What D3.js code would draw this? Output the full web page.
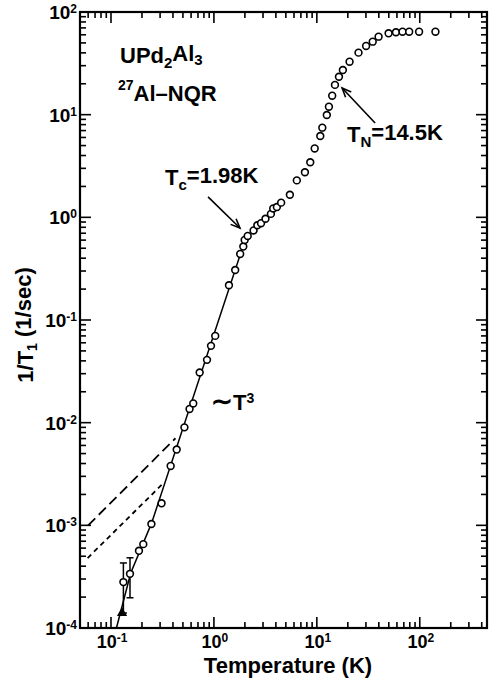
<!DOCTYPE html>
<html>
<head>
<meta charset="utf-8">
<script src="https://cdn.jsdelivr.net/npm/d3@7"></script>
<style>
  body { margin: 0; background: #fff; }
  svg { display: block; }
  text { font-family: "Liberation Sans", Arial, Helvetica, sans-serif; font-weight: bold; fill: #000; }
</style>
</head>
<body>
<svg id="chart" width="491" height="684"></svg>
<script>
// 27Al-NQR relaxation rate of UPd2Al3 versus temperature
const temps = [0.132, 0.153, 0.187, 0.206, 0.247, 0.31, 0.38, 0.435, 0.517, 0.58, 0.63, 0.727, 0.857, 0.937, 1.03,
  1.40, 1.61, 1.80, 1.93, 1.99, 2.13, 2.43, 2.64, 2.87, 3.17, 3.58, 3.77, 4.09, 4.5, 5.47, 6.39, 7.66, 8.63, 9.53,
  10.8, 11.3, 12.5, 13.1, 14.1, 15.0, 16.4, 17.9, 20.8, 25.4, 30.1, 34.9, 39.8, 49.8, 58.7, 68.0, 78.9, 98.5, 142];
const rates = [2.8e-4, 3.37e-4, 5.65e-4, 6.56e-4, 1.03e-3, 1.64e-3, 3.79e-3, 5.47e-3, 9.0e-3, 0.0136, 0.0154, 0.0308, 0.0409, 0.056, 0.070,
  0.218, 0.307, 0.44, 0.519, 0.602, 0.659, 0.745, 0.837, 0.877, 0.969, 1.08, 1.22, 1.26, 1.39, 1.66, 2.29, 2.75, 3.44, 4.69,
  6.2, 7.47, 9.93, 11.96, 15.3, 19.5, 23.4, 27.2, 32.8, 40.2, 46.7, 51.4, 57.5, 62.0, 63.5, 64.3, 64.3, 64.3, 64.3];

// ~T^3 curve below Tc
const fitT = [0.113, 0.1555, 0.248, 2.01];
const fitRate = [1e-4, 3.43e-4, 1.05e-3, 0.603];

// T-linear guide lines
const longDashT = [0.06, 0.423];
const longDashRate = [1.0e-3, 7.05e-3];
const shortDashT = [0.0593, 0.326];
const shortDashRate = [4.8e-4, 2.6e-3];

// error bars on the lowest-temperature points
const errT = [0.132, 0.153];
const errLow = [1.4e-4, 1.97e-4];
const errHigh = [4.3e-4, 4.83e-4];
const triT = [0.128];
const triRate = [1.4e-4];

const xTickExps = [-1, 0, 1, 2];
const yTickExps = [-4, -3, -2, -1, 0, 1, 2];

const svg = d3.select("#chart");
const plotL = 80, plotR = 487, plotT = 12, plotB = 628;
const x = d3.scaleLog().domain([0.05, 450]).range([plotL, plotR]);
const y = d3.scaleLog().domain([1e-4, 100]).range([plotB, plotT]);

// tick values: majors at powers of ten, minors at 2..9
function logTicks(domain) {
  const out = [];
  for (let e = -5; e <= 3; e++) {
    for (let k = 1; k <= 9; k++) {
      const v = k * Math.pow(10, e);
      if (v > domain[0] * 1.0001 && v < domain[1] * 0.9999) out.push({ v, major: k === 1 });
    }
  }
  return out;
}
const majorLen = 11, minorLen = 6;
const ticks = svg.append("g").attr("stroke", "#000").attr("stroke-width", 1.6);
logTicks(x.domain()).forEach(t => {
  const L = t.major ? majorLen : minorLen, px = x(t.v);
  ticks.append("line").attr("x1", px).attr("x2", px).attr("y1", plotB).attr("y2", plotB - L);
  ticks.append("line").attr("x1", px).attr("x2", px).attr("y1", plotT).attr("y2", plotT + L);
});
logTicks(y.domain()).forEach(t => {
  const L = t.major ? majorLen : minorLen, py = y(t.v);
  ticks.append("line").attr("y1", py).attr("y2", py).attr("x1", plotL).attr("x2", plotL + L);
  ticks.append("line").attr("y1", py).attr("y2", py).attr("x1", plotR).attr("x2", plotR - L);
});

// frame
svg.append("rect").attr("x", plotL).attr("y", plotT).attr("width", plotR - plotL).attr("height", plotB - plotT)
  .attr("fill", "none").attr("stroke", "#000").attr("stroke-width", 2.2);

// power-of-ten tick labels
function powLabel(g, e) {
  g.append("tspan").text("10");
  g.append("tspan").attr("font-size", "12px").attr("dy", "-0.5em").text(e < 0 ? "-" + (-e) : String(e));
}
xTickExps.forEach(e => {
  const t = svg.append("text").attr("x", x(Math.pow(10, e)) + 1).attr("y", plotB + 20)
    .attr("text-anchor", "middle").attr("font-size", "18px");
  powLabel(t, e);
});
yTickExps.forEach(e => {
  const t = svg.append("text").attr("x", plotL - 3).attr("y", y(Math.pow(10, e)) + 7)
    .attr("text-anchor", "end").attr("font-size", "19px");
  powLabel(t, e);
});

// axis titles
svg.append("text").attr("x", 288).attr("y", 673).attr("text-anchor", "middle").attr("font-size", "22px")
  .text("Temperature (K)");
const yt = svg.append("text").attr("transform", "translate(33,325) rotate(-90)")
  .attr("text-anchor", "middle").attr("font-size", "22px");
yt.append("tspan").text("1/T");
yt.append("tspan").attr("font-size", "14px").attr("dy", "0.3em").text("1");
yt.append("tspan").attr("dy", "-0.3em").text(" (1/sec)");

// guide lines
const line = d3.line().x(d => x(d[0])).y(d => y(d[1]));
svg.append("path").datum(longDashT.map((t, i) => [t, longDashRate[i]])).attr("d", line)
  .attr("fill", "none").attr("stroke", "#000").attr("stroke-width", 1.8).attr("stroke-dasharray", "10,5");
svg.append("path").datum(shortDashT.map((t, i) => [t, shortDashRate[i]])).attr("d", line)
  .attr("fill", "none").attr("stroke", "#000").attr("stroke-width", 1.8).attr("stroke-dasharray", "5,4");
svg.append("path").datum(fitT.map((t, i) => [t, fitRate[i]])).attr("d", line)
  .attr("fill", "none").attr("stroke", "#000").attr("stroke-width", 1.5);

// error bars
const eb = svg.append("g").attr("stroke", "#000").attr("stroke-width", 1.5);
errT.forEach((t, i) => {
  const px = x(t);
  eb.append("line").attr("x1", px).attr("x2", px).attr("y1", y(errLow[i])).attr("y2", y(errHigh[i]));
  [errLow[i], errHigh[i]].forEach(v => eb.append("line").attr("x1", px - 3.5).attr("x2", px + 3.5).attr("y1", y(v)).attr("y2", y(v)));
});
svg.selectAll("path.tri").data(triT.map((t, i) => [t, triRate[i]])).join("path").attr("class", "tri")
  .attr("transform", d => `translate(${x(d[0])},${y(d[1])})`)
  .attr("d", d3.symbol(d3.symbolTriangle, 45)).attr("fill", "#000");

// data points
svg.append("g").selectAll("circle").data(temps.map((t, i) => [t, rates[i]])).join("circle")
  .attr("cx", d => x(d[0])).attr("cy", d => y(d[1])).attr("r", 3.4)
  .attr("fill", "#fff").attr("stroke", "#000").attr("stroke-width", 1.6);

// annotations
function arrow(x1, y1, x2, y2) {
  const g = svg.append("g").attr("stroke", "#000").attr("stroke-width", 1.6).attr("fill", "none");
  g.append("line").attr("x1", x1).attr("y1", y1).attr("x2", x2).attr("y2", y2);
  const a = Math.atan2(y2 - y1, x2 - x1), h = 10, w = 0.4;
  g.append("path").attr("d", `M${x2 - h * Math.cos(a - w)},${y2 - h * Math.sin(a - w)} L${x2},${y2} L${x2 - h * Math.cos(a + w)},${y2 - h * Math.sin(a + w)}`);
}
arrow(x(0.877), y(1.58), x(1.79), y(0.787));
arrow(x(36.8), y(8.3), x(17.6), y(18.2));

function subText(px, py, parts) {
  const t = svg.append("text").attr("x", px).attr("y", py).attr("font-size", "22px");
  parts.forEach(p => {
    const s = t.append("tspan").text(p.t);
    if (p.sub) s.attr("font-size", "15px").attr("dy", "0.3em");
    if (p.sup) s.attr("font-size", "14px").attr("dy", "-0.5em");
    if (p.back) s.attr("dy", p.back);
    if (p.size) s.attr("font-size", p.size);
  });
  return t;
}
subText(120, 63, [{ t: "UPd" }, { t: "2", sub: true }, { t: "Al", back: "-0.3em" }, { t: "3", sub: true }]);
subText(118, 97, [{ t: "27", sup: true }, { t: "Al–NQR", back: "0.5em" }]);
subText(165, 185, [{ t: "T" }, { t: "c", sub: true }, { t: "=1.98K", back: "-0.3em" }]);
subText(347, 142, [{ t: "T" }, { t: "N", sub: true }, { t: "=14.5K", back: "-0.3em" }]);
subText(211, 410, [{ t: "∼", size: "26px" }, { t: "T" }, { t: "3", sup: true }]);
</script>
</body>
</html>
